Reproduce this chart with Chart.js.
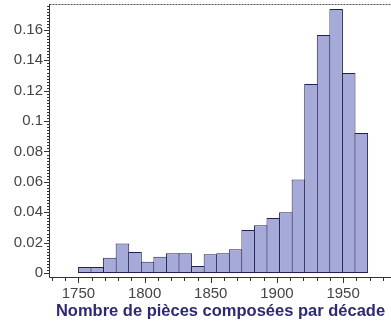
<!DOCTYPE html>
<html><head><meta charset="utf-8">
<script src="https://cdn.jsdelivr.net/npm/chart.js@4"></script>
<style>html,body{margin:0;padding:0;background:#fff}</style>
</head><body>
<canvas id="c" width="391" height="323" style="width:391px;height:323px;display:block"></canvas>
<script>
// Bin centres (years) of the histogram bars
const binCenters = [1754.75, 1764.25, 1773.75, 1783.25, 1792.75, 1802.25, 1811.75, 1821.25, 1830.75, 1840.25, 1849.75, 1859.25, 1868.75, 1878.25, 1887.75, 1897.25, 1906.75, 1916.25, 1925.75, 1935.25, 1944.75, 1954.25, 1963.75];
// Relative frequency of compositions per bin
const binValues = [0.004, 0.004, 0.010, 0.0195, 0.0138, 0.0074, 0.0107, 0.013, 0.013, 0.0046, 0.0123, 0.013, 0.0156, 0.0283, 0.0314, 0.0362, 0.040, 0.0616, 0.1244, 0.1567, 0.1738, 0.1317, 0.0922];
const xTickValues = [1750, 1800, 1850, 1900, 1950];
const xTickLabels = ['1750', '1800', '1850', '1900', '1950'];
const yTickValues = [0, 0.02, 0.04, 0.06, 0.08, 0.1, 0.12, 0.14, 0.16];
const yTickLabels = ['0', '0.02', '0.04', '0.06', '0.08', '0.1', '0.12', '0.14', '0.16'];
const axisTitle = 'Nombre de pièces composées par décade';

const axesPlugin = {
  id: 'mapleAxes',
  afterDraw(chart) {
    const {ctx, chartArea: {left, right, top, bottom}, scales: {x, y}} = chart;
    ctx.save();
    ctx.strokeStyle = '#333';
    ctx.lineWidth = 1;
    ctx.beginPath();
    ctx.moveTo(left - 0.5, top);
    ctx.lineTo(left - 0.5, bottom + 0.5);
    ctx.moveTo(left - 0.5, bottom + 0.5);
    ctx.lineTo(right, bottom + 0.5);
    for (let i = 0; ; i++) {
      const v = i * 0.002;
      if (v > y.max) break;
      const py = Math.round(y.getPixelForValue(v)) + 0.5;
      const major = i % 10 === 0;
      ctx.moveTo(left - (major ? 6 : 3), py);
      ctx.lineTo(left - 0.5, py);
    }
    for (let v = Math.ceil(x.min / 10) * 10; v <= x.max; v += 10) {
      const px = Math.round(x.getPixelForValue(v)) + 0.5;
      const major = v % 50 === 0;
      ctx.moveTo(px, bottom + 0.5);
      ctx.lineTo(px, bottom + (major ? 6 : 4));
    }
    ctx.stroke();
    ctx.strokeStyle = '#555';
    ctx.setLineDash([2, 1]);
    ctx.beginPath();
    ctx.moveTo(left - 0.5, top + 0.5);
    ctx.lineTo(right, top + 0.5);
    ctx.stroke();
    ctx.restore();
  }
};

new Chart(document.getElementById('c'), {
  type: 'bar',
  data: {
    datasets: [{
      data: binCenters.map((c, i) => ({x: c, y: binValues[i]})),
      backgroundColor: 'rgb(166,170,216)',
      borderColor: 'rgb(32,32,82)',
      borderSkipped: false,
      borderWidth: 1,
      barPercentage: 1.08,
      categoryPercentage: 1
    }]
  },
  options: {
    responsive: false,
    animation: false,
    devicePixelRatio: 1,
    layout: {padding: {top: 4, left: 0, right: 0, bottom: 0}},
    plugins: {legend: {display: false}, tooltip: {enabled: false}},
    scales: {
      x: {
        type: 'linear',
        min: 1728.5,
        max: 1986.2,
        offset: false,
        grid: {display: false, drawTicks: false, offset: false},
        border: {display: false},
        afterBuildTicks: (s) => { s.ticks = xTickValues.map(v => ({value: v})); },
        afterFit: (s) => { s.height = 46; s.paddingLeft = 0; s.paddingRight = 0; },
        ticks: {
          autoSkip: false, maxRotation: 0, padding: 8,
          color: '#444',
          font: {family: 'Liberation Sans, Arial, sans-serif', size: 15},
          callback: (v) => xTickLabels[xTickValues.indexOf(v)]
        },
        title: {
          display: true, text: axisTitle, color: 'rgb(44,40,122)',
          font: {family: 'Liberation Sans, Arial, sans-serif', size: 16.5, weight: 'bold'},
          padding: {top: 0, bottom: 2}
        }
      },
      y: {
        type: 'linear',
        min: -0.00263,
        max: 0.1771,
        grid: {display: false, drawTicks: false},
        border: {display: false},
        afterBuildTicks: (s) => { s.ticks = yTickValues.map(v => ({value: v})); },
        afterFit: (s) => { s.width = 50; s.paddingTop = 0; s.paddingBottom = 0; },
        ticks: {
          autoSkip: false, padding: 7,
          color: '#444',
          font: {family: 'Liberation Sans, Arial, sans-serif', size: 15},
          callback: (v) => yTickLabels[yTickValues.indexOf(v)]
        }
      }
    }
  },
  plugins: [axesPlugin]
});
</script>
</body></html>
